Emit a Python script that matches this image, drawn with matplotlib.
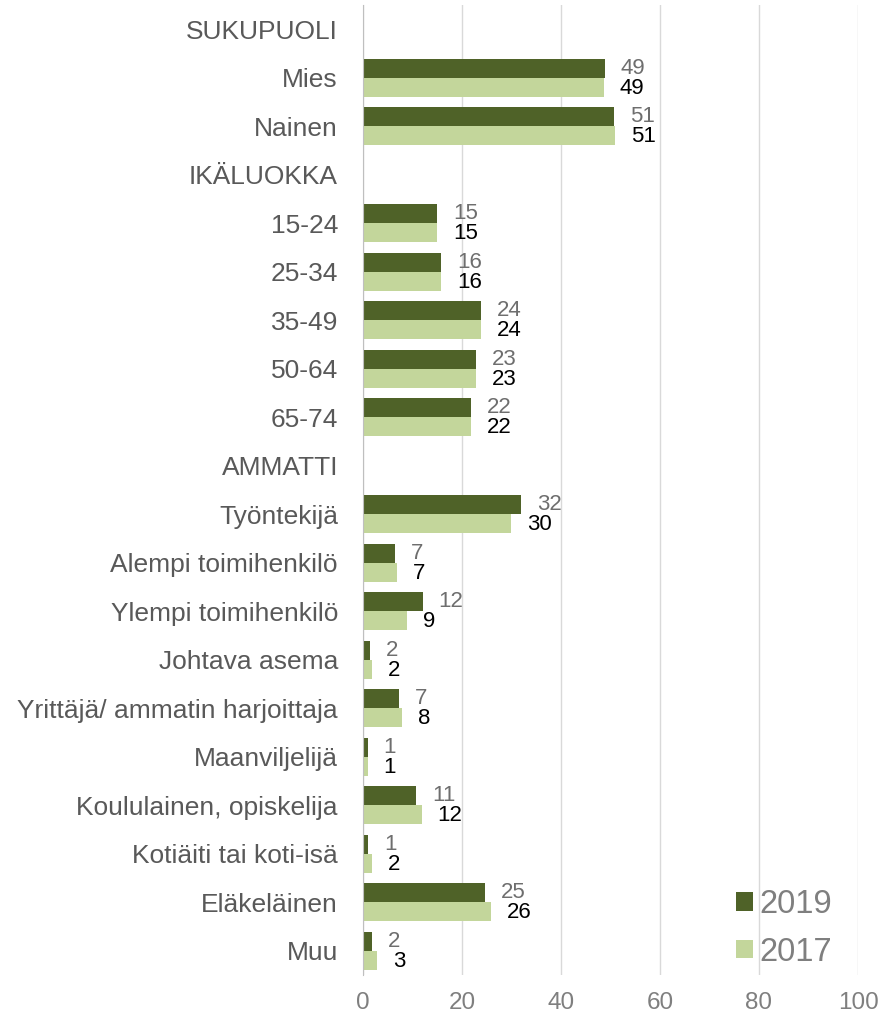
import numpy as np
import matplotlib.pyplot as plt

plt.rcParams['font.family'] = ['Liberation Sans', 'DejaVu Sans']

categories = ['SUKUPUOLI', 'Mies', 'Nainen', 'IKÄLUOKKA', '15-24', '25-34', '35-49',
              '50-64', '65-74', 'AMMATTI', 'Työntekijä', 'Alempi toimihenkilö',
              'Ylempi toimihenkilö', 'Johtava asema', 'Yrittäjä/ ammatin harjoittaja',
              'Maanviljelijä', 'Koululainen, opiskelija', 'Kotiäiti tai koti-isä',
              'Eläkeläinen', 'Muu']
# bar lengths (unrounded); None = heading row
v2019 = [None, 48.9, 50.7, None, 15.0, 15.8, 23.8, 22.8, 21.8, None,
         31.9, 6.5, 12.1, 1.4, 7.2, 0.95, 10.7, 1.0, 24.6, 1.8]
v2017 = [None, 48.7, 50.9, None, 15.0, 15.8, 23.9, 22.9, 21.8, None,
         29.9, 6.9, 8.9, 1.8, 7.9, 0.95, 11.9, 1.8, 25.9, 2.8]
lab2019 = [None, 49, 51, None, 15, 16, 24, 23, 22, None, 32, 7, 12, 2, 7, 1, 11, 1, 25, 2]
lab2017 = [None, 49, 51, None, 15, 16, 24, 23, 22, None, 30, 7, 9, 2, 8, 1, 12, 2, 26, 3]

c2019 = '#4f6228'
c2017 = '#c3d69b'

fig = plt.figure(figsize=(8.84, 10.21), dpi=100)
ax = fig.add_axes([363/884, 1-975/1021, (858-363)/884, (975-5)/1021])

y = np.arange(len(categories))
h = 0.39
a19 = np.array([np.nan if v is None else v for v in v2019])
a17 = np.array([np.nan if v is None else v for v in v2017])
ax.barh(y - h/2, a19, height=h, color=c2019, label='2019', zorder=3)
ax.barh(y + h/2, a17, height=h, color=c2017, label='2017', zorder=3)

for i in range(len(categories)):
    if lab2019[i] is not None:
        ax.text(a19[i] + 3.2, y[i] - h/2, str(lab2019[i]), va='center', ha='left',
                fontsize=16, color='#6e6e6e')
        ax.text(a17[i] + 3.2, y[i] + h/2 + 0.02, str(lab2017[i]), va='center', ha='left',
                fontsize=16, color='black')

ax.set_yticks(y)
ax.set_yticklabels(categories, fontsize=19, color='#595959')
ax.set_ylim(len(categories) - 0.5, -0.5)
ax.set_xlim(0, 100)
ax.set_xticks([0, 20, 40, 60, 80, 100])
ax.tick_params(axis='x', labelsize=17.5, labelcolor='#7f7f7f', length=0, pad=12)
ax.tick_params(axis='y', length=0, pad=18)
ax.grid(axis='x', color='#d9d9d9', linewidth=1, zorder=0)
for s in ['top', 'right', 'bottom']:
    ax.spines[s].set_visible(False)
ax.spines['left'].set_color('#bfbfbf')
ax.spines['left'].set_zorder(4)

ax.legend(loc='upper left', bbox_to_anchor=(707/884, 1-860/1021),
          bbox_transform=fig.transFigure, frameon=False, fontsize=23.5,
          handlelength=0.5, handleheight=0.5, handletextpad=0.2,
          labelspacing=0.5, labelcolor='#7f7f7f')

fig.savefig('out.png', dpi=100)
